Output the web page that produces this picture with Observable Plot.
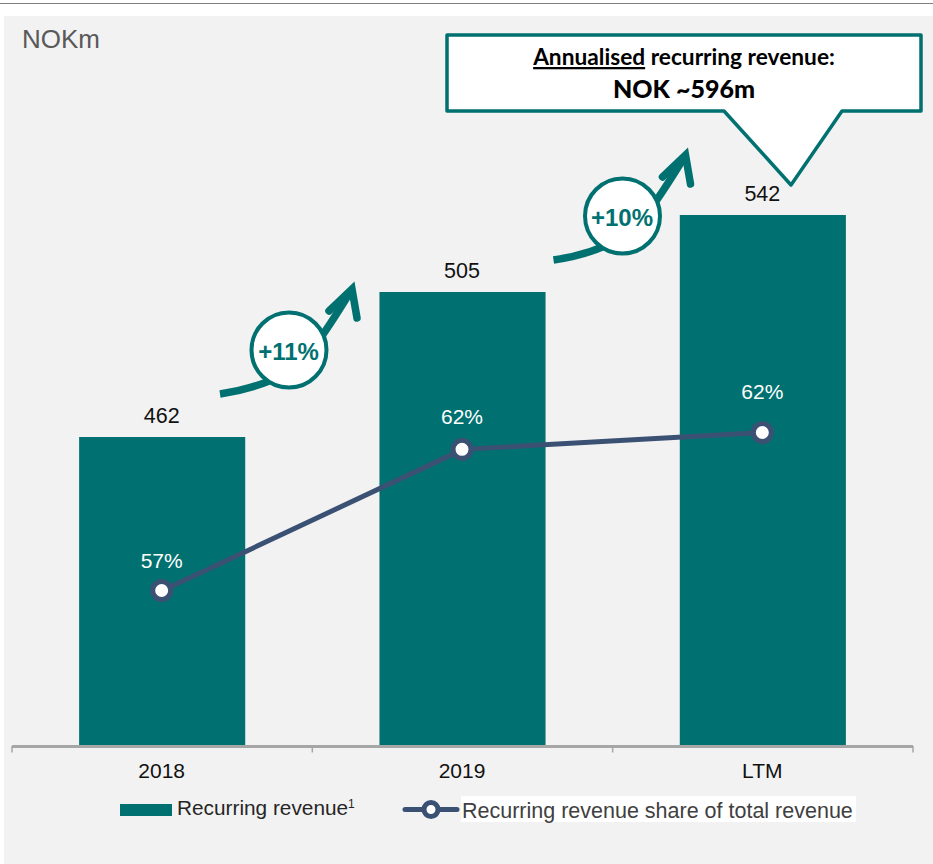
<!DOCTYPE html>
<html><head><meta charset="utf-8">
<script src="https://cdn.jsdelivr.net/npm/d3@7"></script>
<script src="https://cdn.jsdelivr.net/npm/@observablehq/plot@0.6"></script>
<style>
html,body{margin:0;padding:0;background:#fff;width:933px;height:864px;overflow:hidden}
#wrap{position:relative;width:933px;height:864px}
#wrap svg{position:absolute;left:0;top:0;display:block}
</style></head><body><div id="wrap"></div>
<script>
const categories = ["2018", "2019", "LTM"];
const revenue = [462, 505, 542];
const shareValues = [57.0, 61.6, 62.15];
const shareLabels = ["57%", "62%", "62%"];
const growthLabels = ["+11%", "+10%"];

const TEAL = "#007170", NAVY = "#3b5174", SANS = "Liberation Sans, Arial, sans-serif";
const rows = categories.map((c, i) => ({c, revenue: revenue[i], share: shareValues[i], label: shareLabels[i]}));

const xScale = {type: "band", domain: categories, range: [12, 913], paddingInner: 0.447, paddingOuter: 0.2235, round: false};
const base = {width: 933, height: 864, marginTop: 0, marginLeft: 12, marginRight: 20, marginBottom: 118, x: xScale};

const svgEl = n => document.createElementNS("http://www.w3.org/2000/svg", n);
function backdrop() {
  const g = d3.select(svgEl("g")).attr("text-anchor", "start");
  g.append("rect").attr("x", 4).attr("y", 16).attr("width", 929).attr("height", 848).attr("fill", "#f2f2f2");
  g.append("rect").attr("x", 0).attr("y", 3).attr("width", 933).attr("height", 1).attr("fill", "#7f7f7f");
  g.append("text").attr("x", 22).attr("y", 48).attr("font-size", 26).attr("fill", "#595959").attr("font-family", SANS).text("NOKm");
  return g.node();
}
function axisFrame(_, {x}) {
  const g = d3.select(svgEl("g")).attr("fill", "none").attr("stroke", "#a6a6a6");
  const half = x.step() / 2, edges = [...categories.map(c => x(c) + x.bandwidth() / 2 - half), x(categories[2]) + x.bandwidth() / 2 + half];
  g.append("line").attr("x1", edges[0]).attr("x2", edges[3]).attr("y1", 746.5).attr("y2", 746.5).attr("stroke-width", 3);
  edges.forEach(e => g.append("line").attr("x1", e).attr("x2", e).attr("y1", 746).attr("y2", 752.5).attr("stroke-width", 1.5));
  return g.node();
}
function growthArrow(g, dx, dy, label) {
  const a = g.append("g").attr("transform", `translate(${dx},${dy})`);
  a.append("path").attr("d", "M220,394 C248,390 270,382 288,372 C305,362 322,338 349,294")
    .attr("fill", "none").attr("stroke", TEAL).attr("stroke-width", 7.5);
  a.append("path").attr("d", "M329,311 L352,289 L357,318")
    .attr("fill", "none").attr("stroke", TEAL).attr("stroke-width", 7.5).attr("stroke-linecap", "round").attr("stroke-linejoin", "miter");
  a.append("circle").attr("cx", 289).attr("cy", 350).attr("r", 37.5).attr("fill", "#fff").attr("stroke", TEAL).attr("stroke-width", 4);
  a.append("text").attr("x", 288.5).attr("y", 351).attr("dy", "0.36em").attr("text-anchor", "middle").attr("font-family", SANS)
    .attr("font-weight", 700).attr("font-size", 24).attr("fill", TEAL).text(label);
}
function annotations() {
  const g = d3.select(svgEl("g")).attr("text-anchor", "start");
  growthArrow(g, 0, 0, growthLabels[0]);
  growthArrow(g, 333.5, -134, growthLabels[1]);
  g.append("path").attr("d", "M447,35 H921 V111 H842 L791,185 L724,111 H447 Z")
    .attr("fill", "#fff").attr("stroke", TEAL).attr("stroke-width", 3.5).attr("stroke-linejoin", "round");
  const t = g.append("text").attr("x", 684).attr("y", 65).attr("text-anchor", "middle").attr("font-family", "Lato, sans-serif").attr("font-weight", 700).attr("font-size", 22.7).attr("fill", "#000");
  t.append("tspan").attr("text-decoration", "underline").text("Annualised");
  t.append("tspan").text(" recurring revenue:");
  g.append("text").attr("x", 684).attr("y", 98).attr("text-anchor", "middle").attr("font-family", "Lato, sans-serif").attr("font-weight", 900).attr("font-size", 25).attr("fill", "#000").text("NOK ~596m");
  // legend
  g.append("rect").attr("x", 120).attr("y", 804).attr("width", 52).attr("height", 12).attr("fill", TEAL);
  const l1 = g.append("text").attr("x", 177).attr("y", 815).attr("font-family", SANS).attr("font-size", 20.8).attr("fill", "#262626");
  l1.append("tspan").text("Recurring revenue");
  l1.append("tspan").attr("font-size", 12).attr("dy", -7).text("1");
  g.append("rect").attr("x", 461).attr("y", 796).attr("width", 395).attr("height", 26).attr("fill", "#fff");
  g.append("line").attr("x1", 405).attr("x2", 457).attr("y1", 809.5).attr("y2", 809.5).attr("stroke", NAVY).attr("stroke-width", 5).attr("stroke-linecap", "round");
  g.append("circle").attr("cx", 431).attr("cy", 809.5).attr("r", 7).attr("fill", "#fff").attr("stroke", NAVY).attr("stroke-width", 5);
  g.append("text").attr("x", 462).attr("y", 818).attr("font-family", SANS).attr("font-size", 21.5).attr("fill", "#404040").text("Recurring revenue share of total revenue");
  return g.node();
}

const main = Plot.plot({
  ...base,
  style: {background: "transparent", fontFamily: SANS},
  y: {type: "linear", domain: [0, 462, 505, 542], range: [745, 437, 292, 215], axis: null},
  marks: [
    backdrop,
    Plot.barY(rows, {x: "c", y: "revenue", fill: TEAL}),
    axisFrame,
    Plot.axisX({anchor: "bottom", tickSize: 0, tickPadding: 17, fontSize: 21, fill: "#111", label: null, dx: -1}),
    Plot.text(rows, {x: "c", y: "revenue", text: d => String(d.revenue), dx: -1, dy: -21, fontSize: 21.5, fill: "#111"}),
    annotations
  ]
});

const overlay = Plot.plot({
  ...base,
  style: {background: "transparent", fontFamily: SANS},
  y: {type: "linear", domain: [57.0, 62.15], range: [590, 432], axis: null},
  x: {...xScale, axis: null},
  marks: [
    Plot.line(rows, {x: "c", y: "share", stroke: NAVY, strokeWidth: 5}),
    Plot.dot(rows, {x: "c", y: "share", r: 9, dx: -1, fill: "#fff", stroke: NAVY, strokeWidth: 5}),
    ...[-29, -32, -40].map((dy, i) =>
      Plot.text([rows[i]], {x: "c", y: "share", text: "label", dx: -1, dy, fontSize: 21, fill: "#fff"}))
  ]
});

const wrap = document.getElementById("wrap");
wrap.append(main, overlay);
</script></body></html>
